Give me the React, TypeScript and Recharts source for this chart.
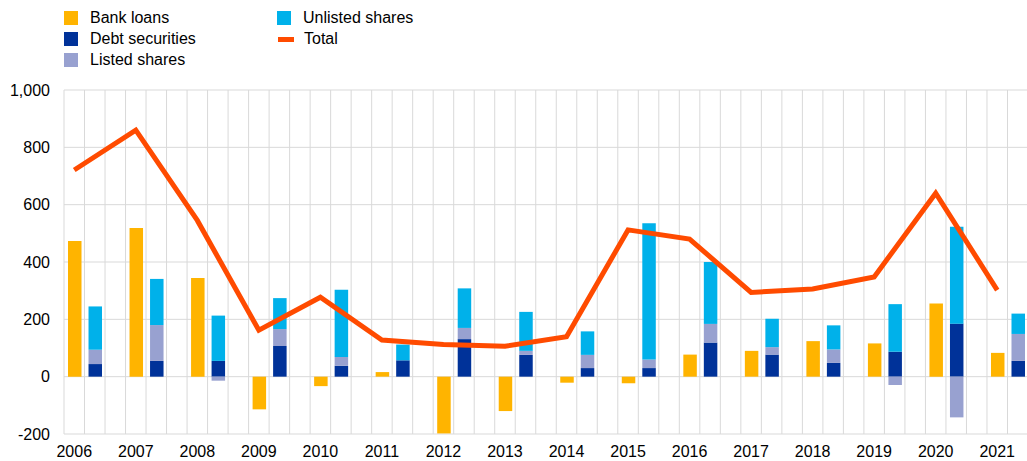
import React from 'react';
import {
  ComposedChart,
  Bar,
  Line,
  XAxis,
  YAxis,
  CartesianGrid,
} from 'recharts';

const years = ['2006', '2007', '2008', '2009', '2010', '2011', '2012', '2013', '2014', '2015', '2016', '2017', '2018', '2019', '2020', '2021'];
const bankLoans = [473, 519, 344, -114, -33, 16, -198, -120, -21, -23, 77, 90, 124, 116, 255, 83];
const debtSecurities = [44, 55, 55, 107, 38, 57, 131, 76, 30, 30, 119, 77, 48, 87, 185, 55];
const listedShares = [50, 125, -14, 59, 31, 0, 39, 14, 46, 30, 65, 26, 47, -29, -142, 94];
const unlistedShares = [151, 161, 158, 108, 234, 55, 138, 136, 82, 475, 216, 99, 84, 166, 338, 71];
const total = [721, 860, 545, 162, 277, 128, 112, 106, 139, 512, 480, 294, 306, 348, 640, 302];
const yTicks = [-200, 0, 200, 400, 600, 800, 1000];

const COLORS = {
  bank: '#FFB400',
  debt: '#003299',
  listed: '#98A1D0',
  unlisted: '#00B1EA',
  total: '#FF4B00',
};

// each year takes three slots: bank loans (+ total point), the stacked bar, then a gap
type Slot = {
  key: string;
  label: string;
  bank?: number;
  debt?: number;
  listed?: number;
  unlisted?: number;
  total?: number;
};

const slots: Slot[] = [];
years.forEach((y, i) => {
  slots.push({ key: y, label: y, bank: bankLoans[i], total: total[i] });
  slots.push({ key: y + 'b', label: '', debt: debtSecurities[i], listed: listedShares[i], unlisted: unlistedShares[i] });
  if (i < years.length - 1) slots.push({ key: y + 'c', label: '' });
});

const FONT = '"Liberation Sans", Arial, sans-serif';

const legendItems = [
  { name: 'Bank loans', color: COLORS.bank, col: 0, row: 0 },
  { name: 'Debt securities', color: COLORS.debt, col: 0, row: 1 },
  { name: 'Listed shares', color: COLORS.listed, col: 0, row: 2 },
  { name: 'Unlisted shares', color: COLORS.unlisted, col: 1, row: 0 },
  { name: 'Total', color: COLORS.total, col: 1, row: 1, line: true },
];

const fmt = (v: number) => v.toLocaleString('en-US');

export default function App() {
  return (
    <div
      style={{
        position: 'fixed',
        left: 0,
        top: 0,
        width: 1027,
        height: 461,
        overflow: 'hidden',
        background: '#fff',
        fontFamily: FONT,
      }}
    >
      {legendItems.map((it) => (
        <div
          key={it.name}
          style={{
            position: 'absolute',
            left: it.col === 0 ? 64 : 277,
            top: 8 + it.row * 21,
            height: 20,
            display: 'flex',
            alignItems: 'center',
            fontSize: 16,
            color: '#000',
            whiteSpace: 'nowrap',
          }}
        >
          <span
            style={{
              display: 'inline-block',
              width: it.line ? 16 : 14,
              height: it.line ? 5 : 14,
              background: it.color,
              marginRight: it.line ? 10 : 12,
              marginLeft: it.line ? 1 : 0,
            }}
          />
          {it.name}
        </div>
      ))}
      <ComposedChart
        width={1030}
        height={461}
        data={slots}
        stackOffset="sign"
        margin={{ top: 90, right: 2, bottom: 0, left: 0 }}
      >
        <CartesianGrid
          stroke="#d9d9d9"
          strokeWidth={1}
          verticalCoordinatesGenerator={({ offset }: any) =>
            Array.from({ length: slots.length + 1 }, (_, i) => offset.left + (i * offset.width) / slots.length)
          }
        />
        <XAxis
          dataKey="key"
          interval={0}
          tickFormatter={(v: string) => (v.length === 4 ? v : '')}
          axisLine={false}
          tickLine={false}
          tickSize={0}
          tickMargin={12}
          height={27}
          tick={{ fill: '#000', fontSize: 16, fontFamily: FONT }}
        />
        <YAxis
          domain={[-200, 1000]}
          ticks={yTicks}
          tickFormatter={fmt}
          axisLine={false}
          tickLine={false}
          tickSize={0}
          tickMargin={14}
          width={64}
          tick={{ fill: '#000', fontSize: 16, fontFamily: FONT }}
        />
        <Bar dataKey="bank" stackId="s" fill={COLORS.bank} barSize={13.5} isAnimationActive={false} />
        <Bar dataKey="debt" stackId="s" fill={COLORS.debt} barSize={13.5} isAnimationActive={false} />
        <Bar dataKey="listed" stackId="s" fill={COLORS.listed} barSize={13.5} isAnimationActive={false} />
        <Bar dataKey="unlisted" stackId="s" fill={COLORS.unlisted} barSize={13.5} isAnimationActive={false} />
        <Line
          dataKey="total"
          stroke={COLORS.total}
          strokeWidth={5}
          dot={false}
          activeDot={false}
          connectNulls
          isAnimationActive={false}
        />
      </ComposedChart>
    </div>
  );
}
